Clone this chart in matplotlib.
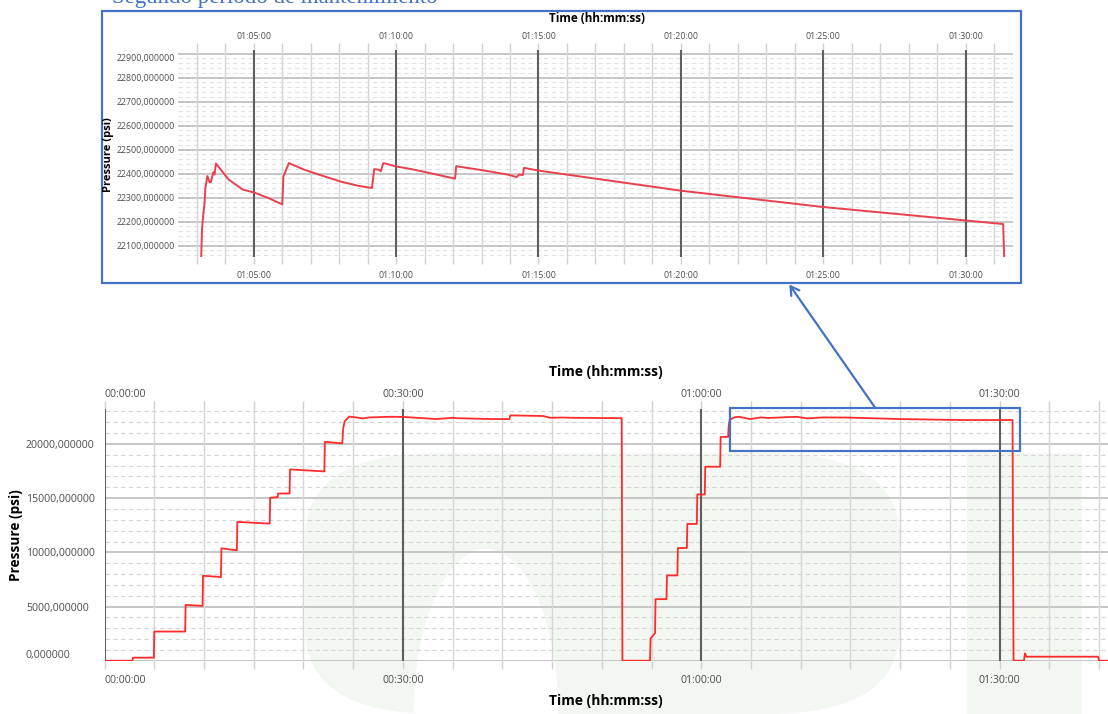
import matplotlib
matplotlib.use('Agg')
import matplotlib.pyplot as plt
import matplotlib.ticker as mticker
from matplotlib.patches import Rectangle, FancyArrowPatch, FancyBboxPatch, Ellipse

plt.rcParams['font.family'] = ['Open Sans', 'DejaVu Sans']

#==========================================Data=========================================
# full test, time in minutes, pressure in psi
full_t = [0.0, 2.8, 2.85, 4.95, 5.0, 8.1, 8.15, 9.85, 9.9, 11.7, 11.75, 13.3, 13.35,
          16.6, 16.65, 17.4, 17.45, 18.6, 18.65, 22.1, 22.15, 23.9, 24.0, 24.15, 24.6,
          26.0, 26.6, 28.7, 30.0, 33.4, 35.0, 35.4, 39.0, 40.7, 40.8, 44.1, 44.8, 46.1,
          46.8, 52.0, 52.07, 54.85, 54.9, 55.35, 55.4, 56.5, 56.55, 57.6, 57.65, 58.55,
          58.6, 59.55, 59.6, 60.35, 60.4, 61.9, 61.95, 62.7, 62.75, 62.85, 63.3, 63.8,
          64.9, 66.0, 66.7, 69.6, 70.6, 72.2, 74.6, 80.0, 86.3, 91.3, 91.4, 92.45,
          92.55, 92.7, 93.0, 99.9, 100.0, 100.9]
full_p = [0, 0, 280, 280, 2690, 2690, 5150, 5060, 7840, 7720, 10370, 10190, 12810,
          12650, 15030, 15100, 15430, 15430, 17650, 17470, 20190, 20060, 21500, 22100, 22530,
          22360, 22450, 22510, 22500, 22300, 22420, 22380, 22300, 22300, 22640, 22580, 22420, 22440,
          22420, 22380, 0, 0, 2070, 2530, 5680, 5680, 7870, 7870, 10400, 10400,
          12620, 12620, 15340, 15340, 17900, 17900, 20650, 20650, 21600, 22210, 22450, 22510,
          22300, 22450, 22400, 22510, 22360, 22450, 22440, 22300, 22210, 22210, 0, 0,
          680, 370, 370, 370, 0, 0]

# zoom on second maintenance period
zoom_t = [63.15, 63.18, 63.22, 63.27, 63.30, 63.37, 63.45, 63.49, 63.58, 63.62, 63.67,
          64.12, 64.62, 65.0, 65.5, 66.0, 66.04, 66.13, 66.23, 66.76, 67.39, 68.02, 68.64,
          69.15, 69.23, 69.40, 69.46, 69.55, 70.0, 70.53, 71.16, 72.07, 72.11, 73.04,
          73.92, 74.23, 74.32, 74.45, 74.49, 75.04, 80.0, 85.0, 90.0, 91.32, 91.36]
zoom_p = [22040, 22165, 22222, 22278, 22340, 22390, 22364, 22364, 22406, 22396, 22442,
          22375, 22333, 22322, 22299, 22272, 22389, 22414, 22444, 22417, 22392, 22368, 22350,
          22340, 22419, 22416, 22410, 22444, 22430, 22419, 22403, 22379, 22431, 22414,
          22396, 22386, 22396, 22394, 22424, 22412, 22329, 22261, 22205, 22190, 22040]

full_xticks = [0, 30, 60, 90]
full_yticks = [0, 5000, 10000, 15000, 20000]
zoom_xticks = [65, 70, 75, 80, 85, 90]
zoom_yticks = [22100, 22200, 22300, 22400, 22500, 22600, 22700, 22800, 22900]

#==========================================Helpers=========================================
W, H = 1108, 714


def box(x0, y0, x1, y1):
    # pixel box (origin top-left) -> figure fraction [l, b, w, h]
    return [x0 / W, 1 - y1 / H, (x1 - x0) / W, (y1 - y0) / H]


def fx(x):
    return x / W


def fy(y):
    return 1 - y / H


def hms(x, pos=None):
    s = int(round(x * 60))
    return f"{s // 3600:02d}:{(s % 3600) // 60:02d}:{s % 60:02d}"


def psi(v, pos=None):
    return f"{v:.6f}".replace('.', ',')


def style_axes(ax, xticks, minor_x, minor_y, yticks, fs, tick_len, pad_bot, pad_top, dash_col):
    lo, hi = ax.get_xlim()
    minors = [m * minor_x for m in range(int(lo // minor_x) + 1, int(hi // minor_x) + 1)]
    ax.set_facecolor('none')
    for s in ax.spines.values():
        s.set_visible(False)
    ax.set_xticks(xticks)
    ax.set_xticks([m for m in minors if m not in xticks], minor=True)
    ax.xaxis.set_major_formatter(mticker.FuncFormatter(hms))
    ax.set_yticks(yticks)
    ax.yaxis.set_major_formatter(mticker.FuncFormatter(psi))
    ax.yaxis.set_minor_locator(mticker.MultipleLocator(minor_y))
    ax.grid(which='major', axis='x', color='#5e5e5e', lw=1.5)
    ax.grid(which='minor', axis='x', color='#d6d6d6', lw=1.0)
    ax.grid(which='major', axis='y', color='#c6c6c6', lw=1.4)
    ax.grid(which='minor', axis='y', color=dash_col, lw=0.8, ls=(0, (4, 3)))
    ax.set_axisbelow(True)
    ax.yaxis.set_zorder(0.3)  # dark time lines stay on top of the dashed ones
    ax.tick_params(axis='x', which='both', top=False, bottom=True, labeltop=False,
                   labelbottom=True, length=tick_len, width=1, color='#d0d0d0',
                   labelsize=fs, labelcolor='#4d4d4d', pad=pad_bot)
    ax.tick_params(axis='y', which='both', length=0, labelsize=fs, labelcolor='#4d4d4d')

    # same time scale repeated above the plot
    sec = ax.secondary_xaxis('top')
    sec.spines['top'].set_visible(False)
    sec.set_xticks(xticks)
    sec.set_xticks([m for m in minors if m not in xticks], minor=True)
    sec.xaxis.set_major_formatter(mticker.FuncFormatter(hms))
    sec.tick_params(axis='x', which='both', length=tick_len, width=1, color='#d0d0d0',
                    labelsize=fs, labelcolor='#4d4d4d', pad=pad_top)
    return sec


#==========================================Figure=========================================
fig = plt.figure(figsize=(W / 100, H / 100), dpi=100)
blue = '#4472c4'
wm = '#f2f7f2'

# faint logo watermark of the page
fig.patches.append(FancyBboxPatch((fx(305), fy(714)), (900 - 305) / W, (714 - 453) / H,
                                  boxstyle='round,pad=0,rounding_size=0.12',
                                  transform=fig.transFigure, fc=wm, ec='none', zorder=-2))
fig.patches.append(Ellipse((fx(486), fy(714)), 145 / W, 330 / H, transform=fig.transFigure,
                           fc='white', ec='none', zorder=-1))
fig.patches.append(Rectangle((fx(967), fy(714)), (1082 - 967) / W, (714 - 453) / H,
                             transform=fig.transFigure, fc=wm, ec='none', zorder=-2))

# --- bottom chart: whole test
ax = fig.add_axes(box(104.6, 409.3, 1108, 660.7))
ax.plot(full_t, full_p, color='#ff2b2b', lw=1.3, zorder=3)
ax.set_xlim(0, 100.9)
ax.set_ylim(0, 23200)
sec = style_axes(ax, full_xticks, 5, 1000, full_yticks, 7.6, 6, 4.0, 0.6, '#d4d4d4')
ax.tick_params(axis='y', pad=56.6)

fig.text(fx(606), fy(372), 'Time (hh:mm:ss)', ha='center', va='center',
         fontsize=10, fontweight='bold')
fig.text(fx(606), fy(701), 'Time (hh:mm:ss)', ha='center', va='center',
         fontsize=10, fontweight='bold')
fig.text(fx(16), fy(535), 'Pressure (psi)', ha='center', va='center', rotation=90,
         fontsize=9.8, fontweight='bold')

# --- top chart: zoom on second maintenance period
az = fig.add_axes(box(177.5, 50, 1012.8, 256.7))
az.plot(zoom_t, zoom_p, color='#e8404e', lw=1.4, zorder=3)
az.set_xlim(62.32, 91.66)
az.set_ylim(22054, 22915)
style_axes(az, zoom_xticks, 1, 20, zoom_yticks, 6.3, 5, 5.5, 1.4, '#e2e2e2')
az.tick_params(axis='y', pad=2)

fig.text(fx(597), fy(19), 'Time (hh:mm:ss)', ha='center', va='center',
         fontsize=8.4, fontweight='bold')
fig.text(fx(109), fy(155), 'Pressure (psi)', ha='center', va='center', rotation=90,
         fontsize=8, fontweight='bold')

# frame around the zoom, box on the main chart and the arrow joining them
fig.patches.append(Rectangle((fx(101.8), fy(283.3)), (1020.8 - 101.8) / W, (283.3 - 11) / H,
                             transform=fig.transFigure, fill=False, ec=blue, lw=1.6))
fig.patches.append(Rectangle((fx(729.5), fy(450.7)), (1020 - 729.5) / W, (450.7 - 408.3) / H,
                             transform=fig.transFigure, fill=False, ec=blue, lw=1.6, zorder=5))
fig.patches.append(FancyArrowPatch((fx(875), fy(407.5)), (fx(789.3), fy(284.5)),
                                   transform=fig.transFigure, arrowstyle='->,head_length=6,head_width=3.5',
                                   color=blue, lw=1.6, shrinkA=0, shrinkB=0))

# heading of the document section, cut by the top of the page
fig.text(fx(112), fy(3.5), 'Segundo período de mantenimiento', ha='left', va='baseline',
         fontsize=16.5, color=blue, family=['Liberation Serif', 'DejaVu Serif'])

# edge labels are pushed inside the plot like in the original software
fig.canvas.draw()
for lbl in ax.get_yticklabels():
    lbl.set_horizontalalignment('left')
ax.get_yticklabels()[0].set_verticalalignment('bottom')
az.get_yticklabels()[-1].set_verticalalignment('top')
ax.xaxis.get_major_ticks()[0].label1.set_horizontalalignment('left')
sec.xaxis.get_major_ticks()[0].label2.set_horizontalalignment('left')

fig.savefig('out.png', dpi=100)
